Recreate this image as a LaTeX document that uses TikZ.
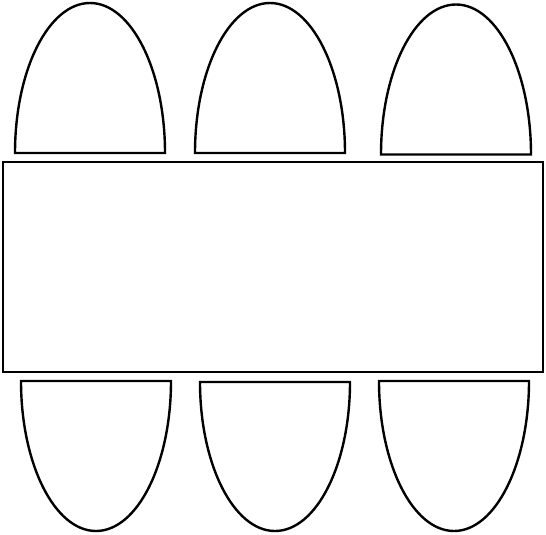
\documentclass[tikz,border=0pt]{standalone}
\begin{document}
\begin{tikzpicture}[x=1pt,y=-1pt,line width=2.4pt,
  furniture/.style={draw=black,line join=miter,fill=white}]
\useasboundingbox (0,0) rectangle (546,535);
% table
\draw[furniture] (3,162) rectangle (543,372);
% top chairs
\draw[furniture] (15,153) arc[start angle=180,end angle=360,x radius=75,y radius=150] -- cycle;
\draw[furniture] (195,153) arc[start angle=180,end angle=360,x radius=75,y radius=150] -- cycle;
\draw[furniture] (381,154.5) arc[start angle=180,end angle=360,x radius=75,y radius=150] -- cycle;
% bottom chairs
\draw[furniture] (21,381) arc[start angle=180,end angle=0,x radius=75,y radius=150] -- cycle;
\draw[furniture] (200,382) arc[start angle=180,end angle=0,x radius=75,y radius=149] -- cycle;
\draw[furniture] (379,381) arc[start angle=180,end angle=0,x radius=75,y radius=150] -- cycle;
\end{tikzpicture}
\end{document}
